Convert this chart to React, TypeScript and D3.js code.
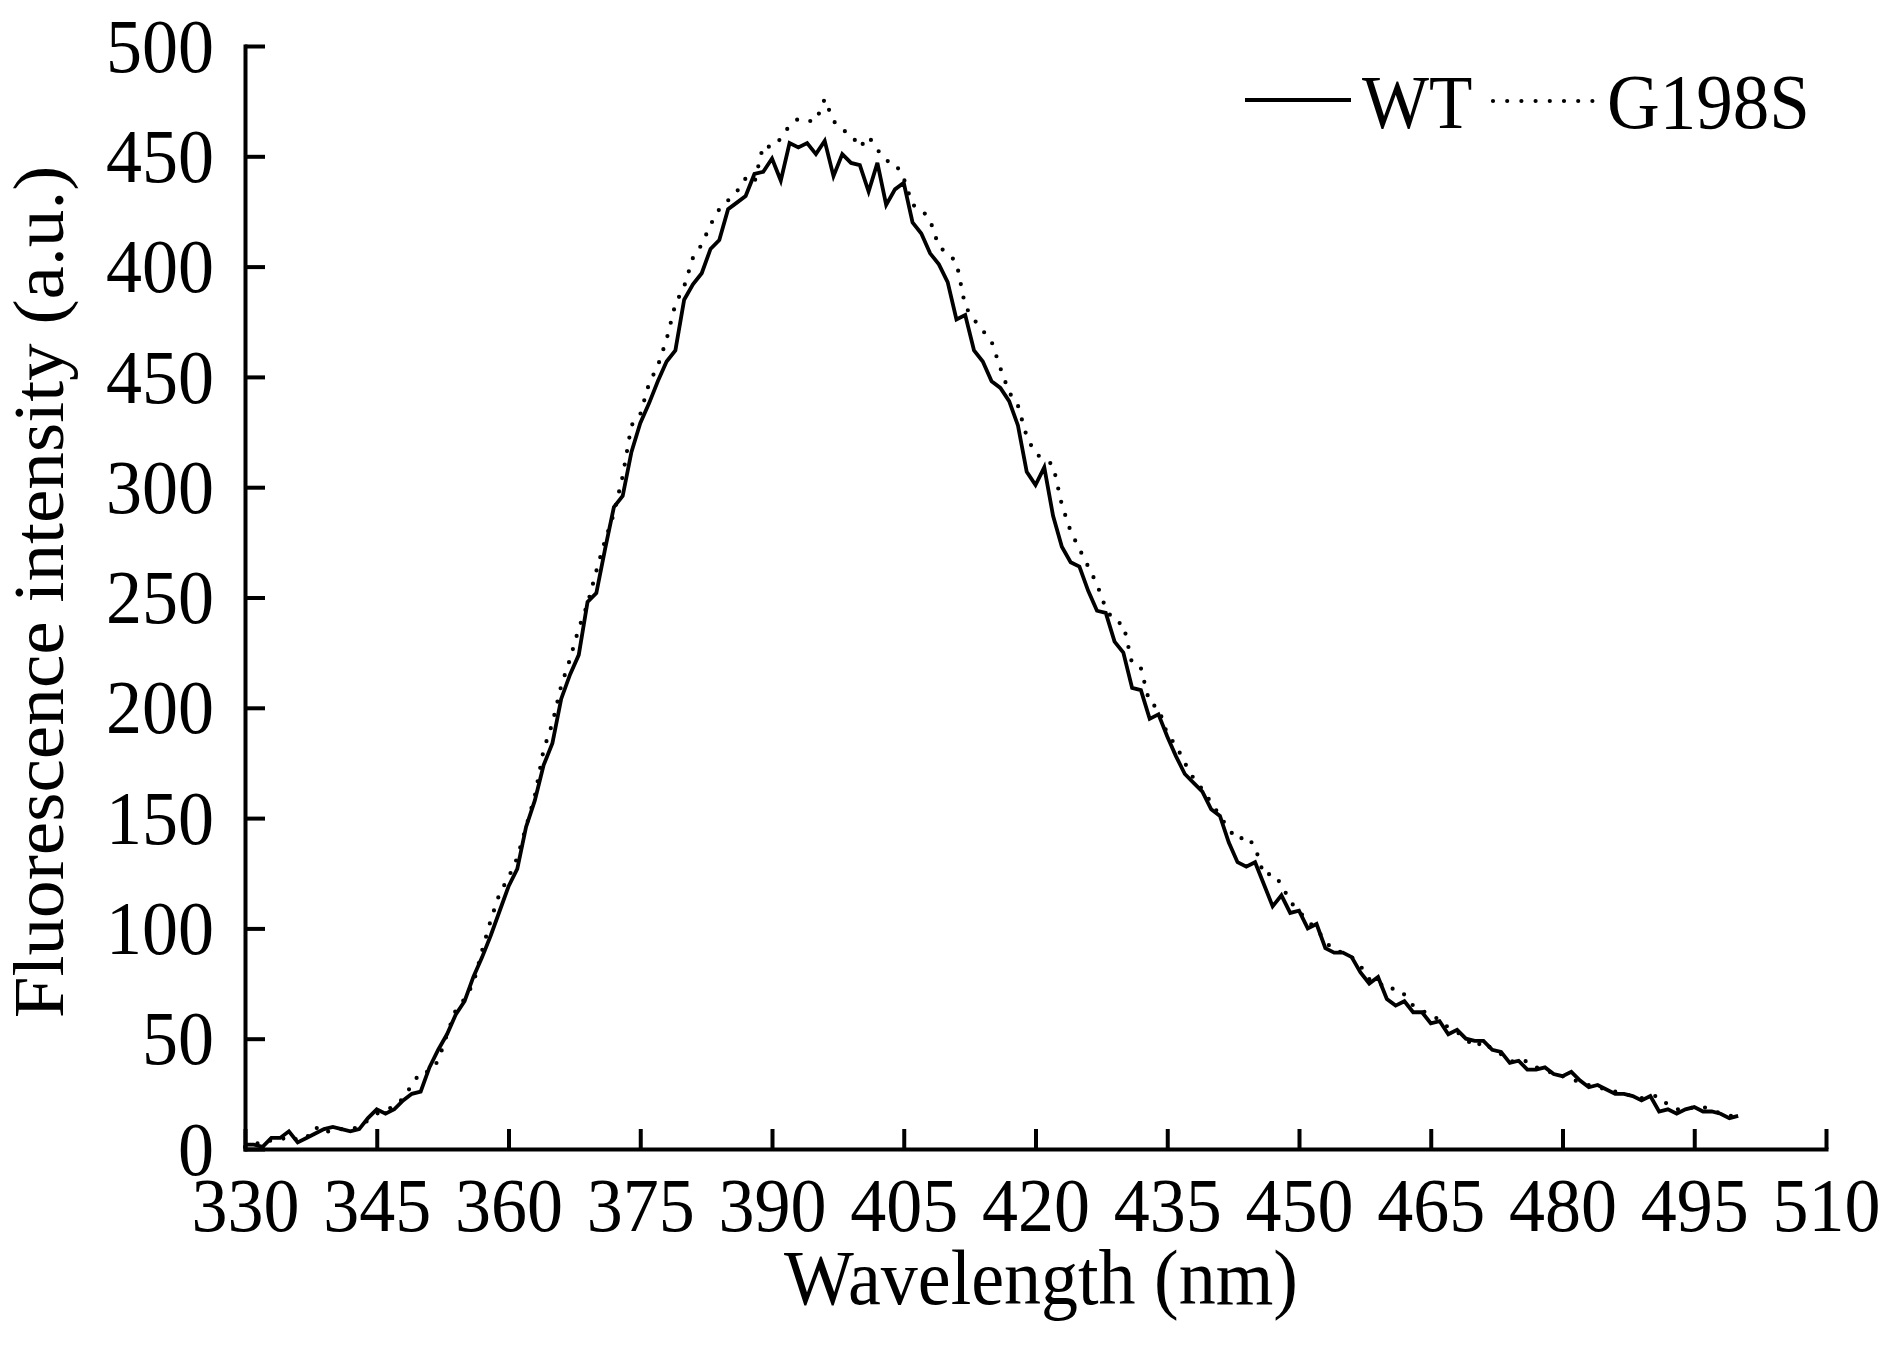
import React, { useEffect, useRef } from 'react';
import * as d3 from 'd3';

// Emission spectra, sampled every 1 nm from 330 to 500 nm
const startWavelength = 330;
const wavelengths = d3.range(startWavelength, 501);

const wtValues = [
  2, 2, 1, 5, 5, 8, 3, 5, 7, 9,
  10, 9, 8, 9, 14, 18, 16, 18, 22, 25,
  26, 37, 45, 52, 61, 67, 78, 87, 97, 108,
  119, 127, 146, 158, 174, 184, 204, 215, 224, 248,
  252, 272, 291, 296, 316, 329, 338, 348, 357, 362,
  385, 392, 397, 408, 412, 426, 429, 432, 442, 443,
  449, 439, 456, 454, 456, 451, 457, 441, 451, 447,
  446, 434, 447, 428, 435, 438, 420, 415, 406, 401,
  393, 376, 378, 362, 357, 348, 345, 339, 328, 307,
  301, 309, 287, 273, 266, 264, 253, 244, 243, 230,
  225, 209, 208, 195, 197, 187, 178, 170, 166, 162,
  154, 151, 139, 130, 128, 130, 120, 110, 115, 107,
  108, 100, 102, 91, 89, 89, 87, 80, 75, 78,
  68, 65, 67, 62, 62, 57, 58, 52, 54, 50,
  49, 49, 45, 44, 39, 40, 36, 36, 37, 34,
  33, 35, 31, 28, 29, 27, 25, 25, 24, 22,
  24, 17, 18, 16, 18, 19, 17, 17, 16, 14,
  15,
];

const g198sValues = [
  1, 3, 2, 4, 4, 6, 4, 5, 10, 7,
  9, 9, 9, 10, 13, 16, 18, 19, 23, 29,
  35, 35, 40, 52, 63, 68, 75, 90, 104, 116,
  123, 132, 146, 160, 181, 193, 210, 222, 236, 247,
  262, 276, 288, 305, 328, 333, 347, 355, 367, 383,
  391, 404, 410, 419, 426, 430, 434, 440, 438, 455,
  454, 458, 464, 467, 466, 466, 476, 466, 462, 460,
  454, 459, 453, 448, 447, 440, 428, 426, 421, 409,
  406, 402, 382, 376, 371, 366, 354, 343, 337, 323,
  315, 313, 310, 292, 280, 272, 264, 256, 245, 239,
  238, 220, 218, 202, 200, 188, 183, 175, 168, 163,
  157, 151, 145, 140, 142, 137, 124, 125, 120, 112,
  108, 103, 100, 94, 90, 89, 87, 83, 77, 76,
  72, 73, 70, 65, 63, 60, 59, 55, 53, 50,
  46, 49, 45, 43, 40, 39, 40, 37, 36, 34,
  33, 32, 30, 29, 28, 27, 26, 25, 24, 23,
  24, 24, 20, 18, 18, 19, 19, 18, 16, 15,
  15,
];

const xTicks = [330, 345, 360, 375, 390, 405, 420, 435, 450, 465, 480, 495, 510];
const yTicks = [0, 50, 100, 150, 200, 250, 300, 350, 400, 450, 500];
// labels as printed in the original figure
const yTickLabels = ['0', '50', '100', '150', '200', '250', '300', '450', '400', '450', '500'];

const seriesNames = ['WT', 'G198S'];

const FONT = '"Liberation Serif", "Times New Roman", serif';
const STRETCH = 'scale(1,1.06)';

const App: React.FC = () => {
  const svgRef = useRef<SVGSVGElement>(null);

  useEffect(() => {
    if (!svgRef.current) return;

    d3.select(svgRef.current).selectAll('*').remove();

    const width = 1885;
    const height = 1354;
    const plot = { left: 245, right: 1826, top: 46, bottom: 1149 };

    const svg = d3.select(svgRef.current)
      .attr('width', width)
      .attr('height', height);

    svg.append('rect')
      .attr('width', width)
      .attr('height', height)
      .attr('fill', '#fff');

    // Scales
    const xScale = d3.scaleLinear()
      .domain([330, 510])
      .range([plot.left, plot.right]);

    const yScale = d3.scaleLinear()
      .domain([0, 500])
      .range([plot.bottom, plot.top]);

    // Axes (ticks point inwards)
    const xAxis = svg.append('g')
      .attr('transform', `translate(0, ${plot.bottom})`)
      .call(d3.axisBottom(xScale).tickValues(xTicks).tickSizeInner(-20).tickSizeOuter(0));

    xAxis.selectAll('text')
      .attr('y', 77)
      .attr('dy', 0)
      .attr('transform', STRETCH)
      .attr('fill', '#000')
      .style('font-size', '72px');

    const yAxis = svg.append('g')
      .attr('transform', `translate(${plot.left}, 0)`)
      .call(d3.axisLeft(yScale)
        .tickValues(yTicks)
        // eslint-disable-next-line @typescript-eslint/no-explicit-any
        .tickFormat(((_: any, i: number) => yTickLabels[i]) as any)
        .tickSizeInner(-20)
        .tickSizeOuter(0));

    yAxis.selectAll('text')
      .attr('x', -31)
      .attr('dy', '0.33em')
      .attr('transform', STRETCH)
      .attr('fill', '#000')
      .style('font-size', '72px');

    [xAxis, yAxis].forEach(ax => {
      ax.attr('font-family', FONT);
      ax.select('.domain').attr('stroke', '#000').attr('stroke-width', 4).attr('stroke-linecap', 'square');
      ax.selectAll('.tick line').attr('stroke', '#000').attr('stroke-width', 4);
    });

    // Line generator shared by both spectra
    const spectrumLine = d3.line<number>()
      .x((_, i) => xScale(wavelengths[i]))
      .y(d => yScale(d));

    // G198S (dotted)
    svg.append('path')
      .datum(g198sValues)
      .attr('fill', 'none')
      .attr('stroke', '#000')
      .attr('stroke-width', 4.2)
      .attr('stroke-linecap', 'round')
      .attr('stroke-dasharray', '0 13.7')
      .attr('d', spectrumLine);

    // WT (solid)
    svg.append('path')
      .datum(wtValues)
      .attr('fill', 'none')
      .attr('stroke', '#000')
      .attr('stroke-width', 3.8)
      .attr('stroke-linejoin', 'miter')
      .attr('d', spectrumLine);

    // Legend
    const legend = svg.append('g');

    legend.append('line')
      .attr('x1', 1245)
      .attr('x2', 1351)
      .attr('y1', 100)
      .attr('y2', 100)
      .attr('stroke', '#000')
      .attr('stroke-width', 4);

    legend.append('text')
      .attr('transform', `translate(1362, 128) ${STRETCH}`)
      .attr('font-family', FONT)
      .style('font-size', '71px')
      .text(seriesNames[0]);

    legend.append('line')
      .attr('x1', 1493)
      .attr('x2', 1593)
      .attr('y1', 101)
      .attr('y2', 101)
      .attr('stroke', '#000')
      .attr('stroke-width', 4.2)
      .attr('stroke-linecap', 'round')
      .attr('stroke-dasharray', '0 14.2');

    legend.append('text')
      .attr('transform', `translate(1607, 128) ${STRETCH}`)
      .attr('font-family', FONT)
      .style('font-size', '73px')
      .text(seriesNames[1]);

    // Axis titles
    svg.append('text')
      .attr('transform', `translate(1041, 1304) ${STRETCH}`)
      .attr('text-anchor', 'middle')
      .attr('font-family', FONT)
      .style('font-size', '74px')
      .text('Wavelength (nm)');

    svg.append('text')
      .attr('transform', `translate(63, 592) ${STRETCH} rotate(-90)`)
      .attr('text-anchor', 'middle')
      .attr('font-family', FONT)
      .style('font-size', '71px')
      .text('Fluorescence intensity (a.u.)');
  }, []);

  return (
    <svg ref={svgRef} style={{ position: 'absolute', left: 0, top: 0, display: 'block' }}></svg>
  );
};

export default App;
